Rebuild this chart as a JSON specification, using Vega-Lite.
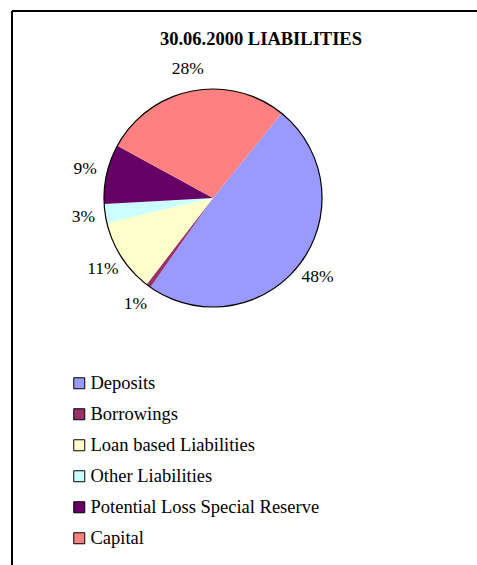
{
  "$schema": "https://vega.github.io/schema/vega-lite/v6.json",
  "autosize": "none",
  "width": 465,
  "height": 554,
  "padding": {"left": 12, "top": 11, "right": 0, "bottom": 0},
  "background": "white",
  "config": {
    "view": {"stroke": null},
    "font": "Liberation Serif"
  },
  "title": {
    "text": "30.06.2000 LIABILITIES",
    "font": "Liberation Serif",
    "fontSize": 18.5,
    "fontWeight": "bold",
    "color": "black",
    "anchor": "middle",
    "orient": "top",
    "offset": 0,
    "baseline": "top",
    "dx": 16.5,
    "dy": 38
  },
  "data": {
    "values": [
      {"category": "Deposits", "value": 48.6, "label": "48%", "order": 1},
      {"category": "Borrowings", "value": 0.7, "label": "1%", "order": 2},
      {"category": "Loan based Liabilities", "value": 10.8, "label": "11%", "order": 3},
      {"category": "Other Liabilities", "value": 2.8, "label": "3%", "order": 4},
      {"category": "Potential Loss Special Reserve", "value": 8.8, "label": "9%", "order": 5},
      {"category": "Capital", "value": 27.7, "label": "28%", "order": 6}
    ]
  },
  "layer": [
    {
      "data": {"values": [{"edge": 1}]},
      "mark": {"type": "rule", "stroke": "black", "strokeWidth": 2},
      "encoding": {
        "y": {"field": "edge", "type": "quantitative", "scale": {"domain": [0, 1], "nice": false, "zero": false}, "axis": null}
      }
    },
    {
      "data": {"values": [{"edge": 0}]},
      "mark": {"type": "rule", "stroke": "black", "strokeWidth": 2},
      "encoding": {
        "x": {"field": "edge", "type": "quantitative", "scale": {"domain": [0, 1], "nice": false, "zero": false}, "axis": null}
      }
    },
    {
      "mark": {"type": "arc", "outerRadius": 109, "xOffset": -31.5, "yOffset": -90, "stroke": null},
      "encoding": {
        "theta": {"field": "value", "type": "quantitative", "stack": true, "scale": {"range": [0.681, 6.9642]}},
        "order": {"field": "order", "type": "quantitative"},
        "color": {
          "field": "category",
          "type": "nominal",
          "scale": {
            "domain": ["Deposits", "Borrowings", "Loan based Liabilities", "Other Liabilities", "Potential Loss Special Reserve", "Capital"],
            "range": ["#9999FF", "#993366", "#FFFFCC", "#CCFFFF", "#660066", "#FF8080"]
          },
          "legend": {
            "title": null,
            "orient": "none",
            "legendX": 58,
            "legendY": 363,
            "padding": 0,
            "symbolType": "square",
            "symbolSize": 121,
            "symbolStrokeColor": "black",
            "symbolStrokeWidth": 1,
            "labelFont": "Liberation Serif",
            "labelFontSize": 18.5,
            "labelColor": "black",
            "labelOffset": 2,
            "rowPadding": 12,
            "labelLimit": 400
          }
        }
      }
    },
    {
      "mark": {"type": "text", "radius": 131, "xOffset": -31.5, "yOffset": -90, "font": "Liberation Serif", "fontSize": 17.5, "color": "black", "align": "center", "baseline": "middle"},
      "encoding": {
        "theta": {"field": "value", "type": "quantitative", "stack": true, "scale": {"range": [0.681, 6.9642]}},
        "order": {"field": "order", "type": "quantitative"},
        "text": {"field": "label", "type": "nominal"}
      }
    },
    {
      "data": {"values": [{"whole": 1}]},
      "mark": {"type": "arc", "outerRadius": 109, "xOffset": -31.5, "yOffset": -90, "fill": null, "stroke": "black", "strokeWidth": 1.2},
      "encoding": {
        "theta": {"field": "whole", "type": "quantitative"}
      }
    }
  ],
  "resolve": {"scale": {"theta": "independent"}}
}
